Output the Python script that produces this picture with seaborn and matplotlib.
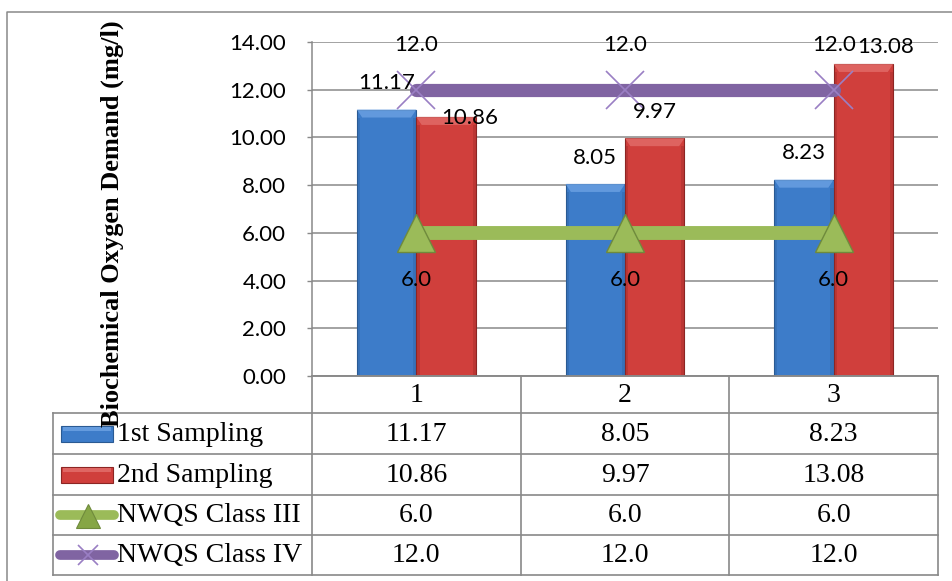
import numpy as np
import pandas as pd
import matplotlib
matplotlib.use("Agg")
import matplotlib.pyplot as plt
from matplotlib.patches import Rectangle, Polygon
import seaborn as sns

# ---- data ----
sites = ["1", "2", "3"]
first_sampling = [11.17, 8.05, 8.23]
second_sampling = [10.86, 9.97, 13.08]
nwqs_class_iii = [6.0, 6.0, 6.0]
nwqs_class_iv = [12.0, 12.0, 12.0]
series_names = ["1st Sampling", "2nd Sampling", "NWQS Class III", "NWQS Class IV"]
y_ticks = [0, 2, 4, 6, 8, 10, 12, 14]

# ---- style ----
sns.set_style("white")
plt.rcParams["font.family"] = ["Lato", "DejaVu Sans"]
plt.rcParams["text.color"] = "black"
plt.rcParams["ytick.labelcolor"] = "black"

BLUE, BLUE_DARK, BLUE_LIGHT = "#3d7cc9", "#2a5a93", "#6fa4e4"
RED, RED_DARK, RED_LIGHT = "#d03f3c", "#8c2523", "#e4706d"
GREEN, GREEN_DARK = "#9bbb59", "#6f8a3c"
PURPLE, PURPLE_MARK = "#8064a2", "#9a7fc4"
GRID = "#898989"
SERIF = "Liberation Serif"

W, H = 952, 581
fig = plt.figure(figsize=(W / 100, H / 100), dpi=100)

# plot area
ax = fig.add_axes([312 / W, 1 - 376 / H, 626 / W, 334 / H])

df = pd.DataFrame({
    "site": sites * 2,
    "bod": first_sampling + second_sampling,
    "series": [series_names[0]] * 3 + [series_names[1]] * 3,
})
sns.barplot(data=df, x="site", y="bod", hue="series", palette=[BLUE, RED],
            width=0.57, gap=0, saturation=1, legend=False, ax=ax, zorder=2)

px_y = 14 / 334.0  # data units per pixel (vertical)
for cont, edge, light in zip(ax.containers, [BLUE_DARK, RED_DARK], [BLUE_LIGHT, RED_LIGHT]):
    for bar in cont:
        bar.set_edgecolor(edge)
        bar.set_linewidth(0.8)
        x0, w, h = bar.get_x(), bar.get_width(), bar.get_height()
        bev = 8 * px_y
        inset = w * 0.09
        # bevelled top face
        ax.add_patch(Polygon([[x0, h], [x0 + w, h], [x0 + w - inset, h - bev], [x0 + inset, h - bev]],
                             closed=True, facecolor=light, edgecolor="none", alpha=0.75, zorder=2.1))
        # darker side strips
        ax.add_patch(Rectangle((x0, 0), inset * 0.6, h - bev, facecolor=edge, alpha=0.3,
                               edgecolor="none", zorder=2.1))
        ax.add_patch(Rectangle((x0 + w - inset * 0.6, 0), inset * 0.6, h - bev, facecolor=edge,
                               alpha=0.3, edgecolor="none", zorder=2.1))

xpos = np.arange(len(sites))
sns.lineplot(x=xpos, y=nwqs_class_iii, color=GREEN, lw=10, marker="^", markersize=28,
             markerfacecolor=GREEN, markeredgecolor=GREEN_DARK, markeredgewidth=1,
             solid_capstyle="butt", ax=ax, zorder=3)
sns.lineplot(x=xpos, y=nwqs_class_iv, color=PURPLE, lw=9.5, solid_capstyle="round", ax=ax, zorder=3)
ax.plot(xpos, nwqs_class_iv, ls="none", marker="x", markersize=27, markeredgecolor=PURPLE_MARK,
        markeredgewidth=1.2, zorder=3.1)

ax.set_xlim(-0.5, len(sites) - 0.5)
ax.set_ylim(0, 14)
ax.set_yticks(y_ticks)
ax.set_yticklabels([f"{v:.2f}" for v in y_ticks], fontsize=16, color="black")
ax.set_xticks([])
ax.set_xlabel("")
ax.set_ylabel("")
ax.yaxis.grid(True, color=GRID, lw=1.1, zorder=0)
ax.set_axisbelow(True)
ax.tick_params(axis="y", length=3.6, width=1, color=GRID, pad=15, direction="out", left=True)
for s in ["top", "right"]:
    ax.spines[s].set_visible(False)
for s in ["left", "bottom"]:
    ax.spines[s].set_color(GRID)
    ax.spines[s].set_linewidth(1.1)

# data labels (offsets in points)
lbl = dict(ha="center", va="center", fontsize=16, color="black",
           textcoords="offset points", zorder=5)
bar_offsets_1 = [(0, 19), (0, 19), (0, 19)]
bar_offsets_2 = [(17, -1), (0, 19), (16, 12)]
for cont, vals, offs in zip(ax.containers, [first_sampling, second_sampling],
                            [bar_offsets_1, bar_offsets_2]):
    for bar, v, off in zip(cont, vals, offs):
        ax.annotate(f"{v:.2f}", (bar.get_x() + bar.get_width() / 2, bar.get_height()),
                    xytext=off, **lbl)
for x, v in zip(xpos, nwqs_class_iv):
    ax.annotate(f"{v:.1f}", (x, v), xytext=(0, 32), **lbl)
for x, v in zip(xpos, nwqs_class_iii):
    ax.annotate(f"{v:.1f}", (x, v), xytext=(0, -34), **lbl)

# ---- overlay for chart frame and data table (pixel coordinates) ----
ov = fig.add_axes([0, 0, 1, 1], zorder=10)
ov.set_xlim(0, W)
ov.set_ylim(H, 0)
ov.axis("off")
ov.patch.set_alpha(0)

# chart frame
ov.plot([7, 7, W + 5], [H + 5, 12, 12], color=GRID, lw=1.1)

# column boundaries aligned with the categories
col_x = [ax.transData.transform((b, 0))[0] for b in np.arange(-0.5, len(sites), 1.0)]
plot_bottom = H - ax.transData.transform((0, 0))[1]
row_y = [plot_bottom, 413, 454, 495, 535, 575]
table_left = 53
tkw = dict(color=GRID, lw=1.2, solid_capstyle="projecting")
for y in row_y[1:]:
    ov.plot([table_left, col_x[-1]], [y, y], **tkw)
ov.plot([col_x[0], col_x[-1]], [row_y[0], row_y[0]], **tkw)
for x in col_x:
    ov.plot([x, x], [row_y[0], row_y[-1]], **tkw)
ov.plot([table_left, table_left], [row_y[1], row_y[-1]], **tkw)

cell = dict(fontsize=20, family=SERIF, ha="center", va="center", color="black")
for i, s in enumerate(sites):
    cx = (col_x[i] + col_x[i + 1]) / 2
    ov.text(cx, (row_y[0] + row_y[1]) / 2 + 1, s, **cell)
    for r, (vals, fmt) in enumerate([(first_sampling, "{:.2f}"), (second_sampling, "{:.2f}"),
                                     (nwqs_class_iii, "{:.1f}"), (nwqs_class_iv, "{:.1f}")]):
        ov.text(cx, (row_y[r + 1] + row_y[r + 2]) / 2 + 1, fmt.format(vals[i]), **cell)

# legend keys and series names
for r, name in enumerate(series_names):
    yc = (row_y[r + 1] + row_y[r + 2]) / 2
    ov.text(117, yc + 1, name, fontsize=20, family=SERIF, ha="left", va="center", color="black")
for r, (fc, ec, lc) in enumerate([(BLUE, BLUE_DARK, BLUE_LIGHT), (RED, RED_DARK, RED_LIGHT)]):
    yc = (row_y[r + 1] + row_y[r + 2]) / 2
    ov.add_patch(Rectangle((61, yc - 8), 52, 16, facecolor=fc, edgecolor=ec, lw=0.8))
    ov.add_patch(Rectangle((63, yc - 7), 48, 4, facecolor=lc, edgecolor="none", alpha=0.8))
yc3 = (row_y[3] + row_y[4]) / 2
ov.plot([60, 114], [yc3, yc3], color=GREEN, lw=7, solid_capstyle="round")
ov.plot([88], [yc3 + 1], marker="^", markersize=17, markerfacecolor="#86a646",
        markeredgecolor=GREEN_DARK, markeredgewidth=0.8)
yc4 = (row_y[4] + row_y[5]) / 2
ov.plot([60, 114], [yc4, yc4], color=PURPLE, lw=7, solid_capstyle="round")
ov.plot([88], [yc4], marker="x", markersize=14, markeredgecolor=PURPLE_MARK, markeredgewidth=1.2)

# axis title
ov.text(112, 224, "Biochemical Oxygen Demand (mg/l)", rotation=90, fontsize=19,
        family=SERIF, fontweight="bold", ha="center", va="center", color="black")

fig.savefig("out.png", dpi=100)
